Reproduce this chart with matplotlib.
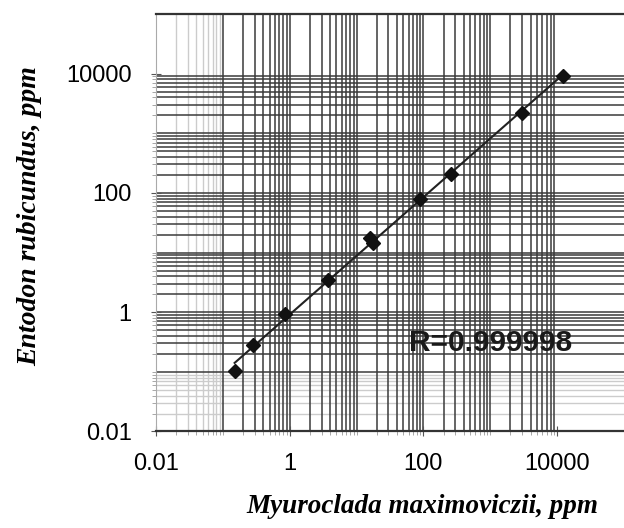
import numpy as np
import matplotlib
matplotlib.use("Agg")
import matplotlib.pyplot as plt
from matplotlib.ticker import FixedLocator, NullFormatter

# paired concentrations, ppm
myuroclada = [0.150, 0.283, 0.863, 3.74, 15.8, 17.5, 88.3, 255, 2940, 12100]
entodon = [0.103, 0.281, 0.927, 3.43, 17.3, 14.3, 80.0, 210, 2200, 9000]
r_text = "R=0.999998"

major_vals = [0.01, 1, 100, 10000]
major_labels = ["0.01", "1", "100", "10000"]

fig = plt.figure(figsize=(6.24, 5.28), dpi=100)
ax = fig.add_axes([0.25, 0.1828, 0.75, 0.7907])
ax.set_xscale("log")
ax.set_yscale("log")
ax.set_xlim(0.01, 1e5)
ax.set_ylim(0.01, 1e5)

# grid: decades 0.1..10000 dark, lowest decade faint
dark_minor = [m * 10.0 ** e for e in range(-1, 4) for m in range(1, 10)]
faint_minor = [m * 0.01 for m in range(2, 10)]
for v in faint_minor:
    ax.axvline(v, color="#cccccc", lw=1.0, zorder=0)
    ax.axhline(v, color="#cccccc", lw=1.0, zorder=0)
for v in dark_minor:
    ax.axvline(v, color="#3a3a3a", lw=1.1, zorder=0)
    ax.axhline(v, color="#3a3a3a", lw=1.1, zorder=0)

ax.xaxis.set_major_locator(FixedLocator(major_vals))
ax.yaxis.set_major_locator(FixedLocator(major_vals))
ax.set_xticklabels(major_labels)
ax.set_yticklabels(major_labels)
ax.xaxis.set_minor_locator(FixedLocator(dark_minor + faint_minor))
ax.yaxis.set_minor_locator(FixedLocator(dark_minor + faint_minor))
ax.xaxis.set_minor_formatter(NullFormatter())
ax.yaxis.set_minor_formatter(NullFormatter())

for lab in ax.get_xticklabels() + ax.get_yticklabels():
    lab.set_fontfamily("Liberation Sans")
    lab.set_fontsize(17)
ax.tick_params(which="major", direction="inout", length=7, color="#555555", pad=12)
ax.tick_params(which="minor", direction="out", length=3, color="#999999")
ax.tick_params(axis="y", which="major", pad=14)

for s in ["top", "bottom"]:
    ax.spines[s].set_color("#333333")
    ax.spines[s].set_linewidth(1.6)
ax.spines["left"].set_color("#aaaaaa")
ax.spines["right"].set_visible(False)

# regression line in log-log space
lx, ly = np.log10(myuroclada), np.log10(entodon)
k, b = np.polyfit(lx, ly, 1)
xs = np.array([min(myuroclada), max(myuroclada)])
ax.plot(xs, 10 ** (k * np.log10(xs) + b), color="#222222", lw=1.5, zorder=3)
ax.plot(myuroclada, entodon, "D", color="#111111", ms=7.5, zorder=4)

ax.text(1000, 0.3, r_text, fontfamily="Liberation Sans", fontsize=21.5,
        fontweight="semibold", color="#1a1a1a", ha="center", va="center", zorder=5)

fig.text(0.048, 0.59, "Entodon rubicundus, ppm", rotation=90, ha="center", va="center",
         fontfamily="Liberation Serif", fontstyle="italic", fontweight="bold", fontsize=20)
fig.text(0.677, 0.04, "Myuroclada maximoviczii, ppm", ha="center", va="center",
         fontfamily="Liberation Serif", fontstyle="italic", fontweight="bold", fontsize=19.5)

fig.savefig("out.png", dpi=100)
